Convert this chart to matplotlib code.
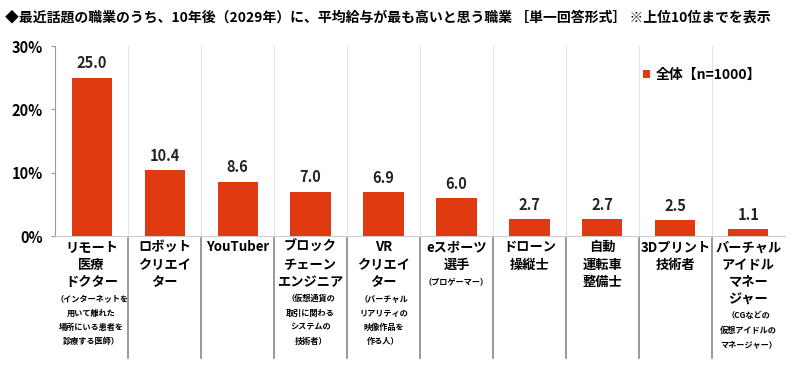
import matplotlib
matplotlib.use("Agg")
import matplotlib.pyplot as plt
import matplotlib.transforms as mtransforms

plt.rcParams['font.family'] = ['Noto Sans CJK JP', 'DejaVu Sans']

# data
jobs = ["リモート\n医療\nドクター", "ロボット\nクリエイ\nター", "YouTuber",
        "ブロック\nチェーン\nエンジニア", "VR\nクリエイ\nター", "eスポーツ\n選手",
        "ドローン\n操縦士", "自動\n運転車\n整備士", "3Dプリント\n技術者",
        "バーチャル\nアイドル\nマネー\nジャー"]
notes = ["（インターネットを\n用いて離れた\n場所にいる患者を\n診療する医師）", "", "",
         "（仮想通貨の\n取引に関わる\nシステムの\n技術者）",
         "（バーチャル\nリアリティの\n映像作品を\n作る人）", "（プロゲーマー）",
         "", "", "", "（CGなどの\n仮想アイドルの\nマネージャー）"]
values = [25.0, 10.4, 8.6, 7.0, 6.9, 6.0, 2.7, 2.7, 2.5, 1.1]
yticks = [0, 10, 20, 30]
series_name = "全体【n=1000】"
title = "◆最近話題の職業のうち、10年後（2029年）に、平均給与が最も高いと思う職業 ［単一回答形式］ ※上位10位までを表示"

bar_color = "#e03a10"

fig = plt.figure(figsize=(8, 3.87), dpi=100)
ax = fig.add_axes([0.069, 0.39, 0.912, 0.491])

x = list(range(len(values)))
ax.bar(x, values, width=0.55, color=bar_color, label=series_name, zorder=3)
for xi, v in zip(x, values):
    ax.text(xi, v + 1.0, f"{v:.1f}", ha='center', va='bottom',
            fontsize=10.5, fontweight='bold', color='#222222')

ax.set_xlim(-0.5, len(values) - 0.5)
ax.set_ylim(0, 30)
ax.set_yticks(yticks)
ax.set_yticklabels([f"{t}%" for t in yticks], fontsize=10.5, fontweight='bold')
ax.set_xticks([])

for s in ['top', 'right']:
    ax.spines[s].set_visible(False)
ax.spines['left'].set_color('#999999')
ax.spines['bottom'].set_color('#cccccc')
ax.tick_params(axis='y', length=3, color='#999999', pad=6)

# separators
trans = mtransforms.blended_transform_factory(ax.transData, ax.transAxes)
for k in range(len(values) - 1):
    ax.plot([k + 0.5, k + 0.5], [0, 1], transform=trans, color='#e2e2e2',
            lw=0.8, zorder=1)
    ax.plot([k + 0.5, k + 0.5], [-0.01, -0.64], transform=trans,
            color='#888888', lw=1.2, clip_on=False)

# category labels
for xi, (job, note) in enumerate(zip(jobs, notes)):
    ax.annotate(job, xy=(xi, 0), xycoords=trans, xytext=(0, -3),
                textcoords='offset points', ha='center', va='top',
                fontsize=9.5, fontweight='bold', linespacing=1.3,
                annotation_clip=False)
    if note:
        n = job.count("\n") + 1
        ax.annotate(note, xy=(xi, 0), xycoords=trans,
                    xytext=(0, -3 - n * 12.3 - 2),
                    textcoords='offset points', ha='center', va='top',
                    fontsize=5.9, fontweight='bold', linespacing=1.75,
                    annotation_clip=False)

leg = ax.legend(loc='upper right', bbox_to_anchor=(0.985, 0.95), frameon=False,
                handlelength=0.5, handleheight=0.5, handletextpad=0.4,
                prop={'size': 10, 'weight': 'bold'})

fig.text(0.006, 0.955, title, fontsize=10, fontweight='bold', ha='left',
         va='center')

fig.savefig("out.png", dpi=100)
